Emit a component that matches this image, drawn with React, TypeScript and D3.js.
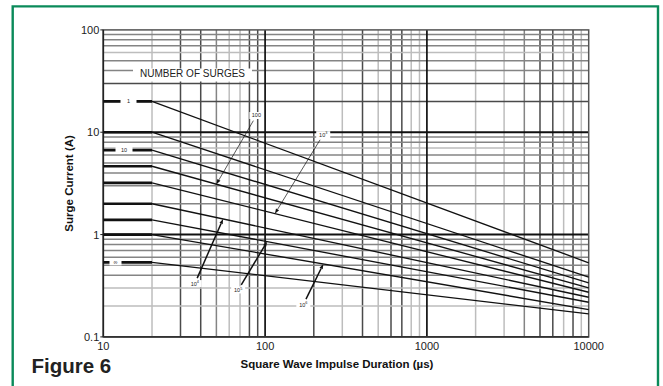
import React from "react";
import * as d3 from "d3";

// ---- data ----
const durationsUs = [10, 20, 10000];
const surgeCounts = ["1", "", "10", "100", "10|3", "10|4", "10|5", "10|6", "∞"];
const currentAt20us = [20, 10, 6.7, 4.65, 3.2, 2.0, 1.39, 1.0, 0.535];
const currentAt10000us = [0.53, 0.383, 0.337, 0.301, 0.273, 0.244, 0.218, 0.185, 0.168];
const xTickValues = [10, 100, 1000, 10000];
const yTickValues = [0.1, 1, 10, 100];
const yTickLabels = ["0.1", "1", "10", "100"];
// callouts: which series and at which duration the arrow points
const calloutSeries = [3, 4, 5, 6, 7];
const calloutDurations = [50, 115, 55, 103, 229];
// flat-segment labels for series 0, 2, 8
const flatLabelSeries = [0, 2, 8];

// ---- layout / style ----
const W = 663, H = 386;
const X0 = 103.3, X1 = 588.7, Y0 = 336.9, Y1 = 29.9;
const calloutOffsets = [[40, -68.7], [48.3, -79], [-28.3, 64.6], [-29, 48.3], [-20, 40.6]];
const calloutWidths = [0.7, 0.7, 1.5, 1.5, 1.5];
const flatLabelX = [128.5, 124, 115.5];
const flatGapW = [16, 17, 12];
const L = "#bdbdbd", M = "#848484", D = "#4a4a4a";
const vShades = [
  [L, D, D, M, L, L, D, D],
  [D, L, D, L, D, D, L, L],
  [L, L, M, D, D, L, D, L],
];
const hShades = [
  [L, L, M, M, M, M, M, M],
  [M, M, M, M, M, L, M, M],
  [D, D, M, M, L, M, M, M],
];

export default function App() {
  const x = d3.scaleLog().domain([10, 10000]).range([X0, X1]);
  const y = d3.scaleLog().domain([0.1, 100]).range([Y0, Y1]);
  const line = d3.line<[number, number]>().x((d) => x(d[0])).y((d) => y(d[1]));

  const valueAt = (i: number, d: number) => {
    const t = (Math.log10(d) - Math.log10(20)) / (Math.log10(10000) - Math.log10(20));
    return Math.pow(10, Math.log10(currentAt20us[i]) + t * (Math.log10(currentAt10000us[i]) - Math.log10(currentAt20us[i])));
  };

  const grid: JSX.Element[] = [];
  [10, 100, 1000].forEach((dec, di) => {
    for (let m = 2; m <= 9; m++) {
      const xv = x(dec * m);
      grid.push(<line key={`v${dec}-${m}`} x1={xv} x2={xv} y1={Y1} y2={Y0} stroke={vShades[di][m - 2]} strokeWidth={1.5} />);
    }
  });
  [0.1, 1, 10].forEach((dec, di) => {
    for (let m = 2; m <= 9; m++) {
      const yv = y(dec * m);
      grid.push(<line key={`h${dec}-${m}`} x1={X0} x2={X1} y1={yv} y2={yv} stroke={hShades[di][m - 2]} strokeWidth={1.5} />);
    }
  });
  const majors: JSX.Element[] = [];
  [100, 1000].forEach((v) => majors.push(<line key={`mv${v}`} x1={x(v)} x2={x(v)} y1={Y1} y2={Y0} stroke="#111" strokeWidth={1.7} />));
  [1, 10].forEach((v) => majors.push(<line key={`mh${v}`} x1={X0} x2={X1} y1={y(v)} y2={y(v)} stroke="#111" strokeWidth={1.9} />));

  const renderCount = (s: string, cx: number, cy: number, fs: number) => {
    const [base, sup] = s.split("|");
    return (
      <text x={cx} y={cy + fs * 0.35} fontSize={fs} textAnchor="middle" fontFamily="Liberation Sans, Arial, sans-serif" fill="#222">
        {base}
        {sup && <tspan fontSize={fs * 0.7} dy={-fs * 0.4}>{sup}</tspan>}
      </text>
    );
  };

  return (
    <svg width={W} height={H} style={{ position: "absolute", left: 0, top: 0, background: "#fff" }} fontFamily="Liberation Sans, Arial, sans-serif">
      <rect x={0} y={0} width={W} height={H} fill="#fff" />
      <path d={`M12.7,${H + 5} V6.4 H658 V${H + 5}`} fill="none" stroke="#0a8a5a" strokeWidth={2.4} />

      {grid}
      {majors}
      <rect x={X0} y={Y1} width={X1 - X0} height={Y0 - Y1} fill="none" stroke="#555" strokeWidth={1.5} />
      <line x1={X0} x2={X0} y1={Y1} y2={Y0} stroke="#222" strokeWidth={1.6} />
      <line x1={X0} x2={X1} y1={Y0} y2={Y0} stroke="#333" strokeWidth={1.6} />

      {/* NUMBER OF SURGES */}
      <rect x={133} y={68.5} width={119} height={13} fill="#fff" />
      <text x={192.5} y={77.4} fontSize={10} textAnchor="middle" fill="#222">NUMBER OF SURGES</text>

      {/* series */}
      {currentAt20us.map((v20, i) => (
        <g key={`s${i}`}>
          <path d={line([[durationsUs[0], v20], [durationsUs[1], v20]]) || ""} fill="none" stroke="#111" strokeWidth={2.7} />
          <path d={line([[durationsUs[1], v20], [durationsUs[2], currentAt10000us[i]]]) || ""} fill="none" stroke="#111" strokeWidth={1.35} />
        </g>
      ))}

      {/* flat labels */}
      {flatLabelSeries.map((si, k) => (
        <g key={`fl${k}`}>
          <rect x={flatLabelX[k] - flatGapW[k] / 2} y={y(currentAt20us[si]) - 3} width={flatGapW[k]} height={6} fill="#fff" />
          {renderCount(surgeCounts[si], flatLabelX[k], y(currentAt20us[si]), 5.5)}
        </g>
      ))}

      {/* callouts */}
      {calloutSeries.map((si, k) => {
        const tx = x(calloutDurations[k]);
        const ty = y(valueAt(si, calloutDurations[k]));
        const lx = tx + calloutOffsets[k][0];
        const ly = ty + calloutOffsets[k][1];
        const len = Math.hypot(tx - lx, ty - ly);
        const ux = (tx - lx) / len, uy = (ty - ly) / len;
        const sx = lx + ux * 6, sy = ly + uy * 6;
        const ah = 5, aw = 1.8;
        const bx = tx - ux * ah, by = ty - uy * ah;
        const head = `M${tx},${ty} L${bx - uy * aw},${by + ux * aw} L${bx + uy * aw},${by - ux * aw} Z`;
        return (
          <g key={`c${k}`}>
            <line x1={sx} y1={sy} x2={bx} y2={by} stroke="#111" strokeWidth={calloutWidths[k]} />
            <path d={head} fill="#111" />
            <rect x={lx - 7} y={ly - 3.5} width={14} height={7} fill="#fff" />
            {renderCount(surgeCounts[si], lx, ly, 5.5)}
          </g>
        );
      })}

      {/* y ticks */}
      {yTickValues.map((v, i) => (
        <g key={`yt${i}`}>
          <line x1={X0 - 3} x2={X0} y1={y(v)} y2={y(v)} stroke="#222" strokeWidth={1} />
          <text x={X0 - 4} y={y(v) + 4} fontSize={11} textAnchor="end" fill="#222">{yTickLabels[i]}</text>
        </g>
      ))}
      {/* x ticks */}
      {xTickValues.map((v) => (
        <text key={`xt${v}`} x={x(v)} y={350} fontSize={11} textAnchor="middle" fill="#222">{v}</text>
      ))}

      <text x={337} y={368.3} fontSize={11.5} fontWeight="bold" textAnchor="middle" fill="#111">Square Wave Impulse Duration (µs)</text>
      <text transform={`translate(72.5,${(Y0 + Y1) / 2}) rotate(-90)`} fontSize={11.5} fontWeight="bold" textAnchor="middle" fill="#111">Surge Current (A)</text>
      <text x={31.5} y={372.7} fontSize={20.5} fontWeight="bold" fill="#222">Figure 6</text>
    </svg>
  );
}
